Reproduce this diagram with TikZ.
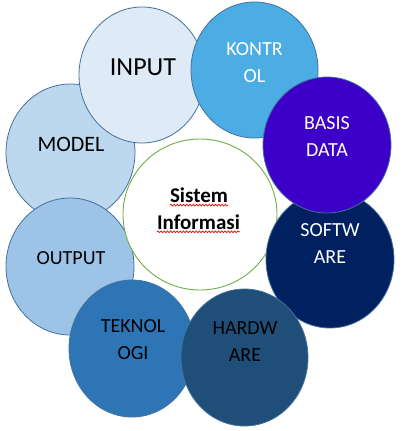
\documentclass[tikz,border=0pt]{standalone}
\usepackage{fontspec}
\setmainfont{Carlito}
\usepackage{tikz}
\usetikzlibrary{
  calc,                     % 坐标计算
  decorations.pathmorphing  % 拼写检查的红色波浪线
}

\definecolor{inputc}{HTML}{DEEBF7}
\definecolor{kontrolc}{HTML}{4BADE3}
\definecolor{basisc}{HTML}{3C00C8}
\definecolor{softc}{HTML}{002060}
\definecolor{hardc}{HTML}{1F4E79}
\definecolor{teknoc}{HTML}{2E75B6}
\definecolor{outputc}{HTML}{9DC3E6}
\definecolor{modelc}{HTML}{BDD7EE}
\definecolor{rimc}{HTML}{41719C}
\definecolor{hubc}{HTML}{70AD47}

\tikzset{
  bubble/.style={draw=rimc, line width=0.8pt},
  lbl/.style={align=center, inner sep=0pt, font=\fontsize{20}{27}\selectfont},
  squiggle/.style={red, line width=0.7pt,
    decorate, decoration={snake, segment length=3.2pt, amplitude=0.9pt}}
}

\begin{document}
\begin{tikzpicture}[x=1pt, y=-1pt]
  \useasboundingbox (0,0) rectangle (407,431);

  % =========== 圆心 (像素坐标, y 向下) ===========
  \coordinate (M) at (70.5,152.5);   % MODEL
  \coordinate (O) at (70,266.5);     % OUTPUT
  \coordinate (T) at (132,348.5);    % TEKNOLOGI
  \coordinate (S) at (330,259.5);    % SOFTWARE
  \coordinate (H) at (244.5,357.5);  % HARDWARE
  \coordinate (I) at (142,75);       % INPUT
  \coordinate (K) at (254.5,70);     % KONTROL
  \coordinate (B) at (327,145);      % BASIS DATA
  \coordinate (C) at (200,214.5);    % Sistem Informasi

  % =========== 外圈 (按叠放次序) ===========
  \draw[bubble, fill=modelc] (M) ellipse [x radius=64.5, y radius=68.5];
  \draw[bubble, fill=outputc] (O) ellipse [x radius=64, y radius=68.5];
  \draw[bubble, fill=teknoc] (T) ellipse [x radius=63, y radius=68.5];

  % 中心圆
  \draw[hubc, line width=0.9pt, fill=white] (C) ellipse [x radius=77, y radius=75.5];

  \draw[bubble, fill=softc] (S) ellipse [x radius=64, y radius=68.5];
  \draw[bubble, fill=hardc] (H) ellipse [x radius=63.5, y radius=68.5];
  \draw[bubble, fill=inputc] (I) ellipse [x radius=63, y radius=68];
  \draw[bubble, fill=kontrolc] (K) ellipse [x radius=63.5, y radius=68];
  \draw[bubble, fill=basisc] (B) ellipse [x radius=64, y radius=68];

  % =========== 文字 ===========
  \node[lbl, font=\fontsize{26}{30}\selectfont] (input) at ($(I)+(1,-7.5)$) {INPUT};
  \node[lbl, font=\fontsize{22}{27}\selectfont] (model) at ($(M)+(0.5,-8)$) {MODEL};
  \node[lbl] (output) at ($(O)+(1,-8)$) {OUTPUT};
  \node[lbl, white] (kontrol) at ($(K)+(0,-7.5)$) {KONTR\\OL};
  \node[lbl, white] (basis) at ($(B)+(0,-8)$) {BASIS\\DATA};
  \node[lbl, white] (soft) at ($(S)+(0,-16)$) {SOFTW\\ARE};
  \node[lbl] (hard) at ($(H)+(0.5,-15.5)$) {HARDW\\ARE};
  \node[lbl] (tekno) at ($(T)+(1,-9)$) {TEKNOL\\OGI};
  \node[lbl, font=\bfseries\fontsize{21}{27}\selectfont] (sistem) at ($(C)+(-1,-19.5)$) {Sistem};
  \node[lbl, font=\bfseries\fontsize{21}{27}\selectfont] (info) at ($(C)+(-1.5,7.5)$) {Informasi};

  % 拼写检查波浪线
  \draw[squiggle] ($(sistem.south west)+(0,2.5)$) -- ($(sistem.south east)+(0,2.5)$);
  \draw[squiggle] ($(info.base west)+(0,2.5)$) -- ($(info.base east)+(0,2.5)$);

\end{tikzpicture}
\end{document}
